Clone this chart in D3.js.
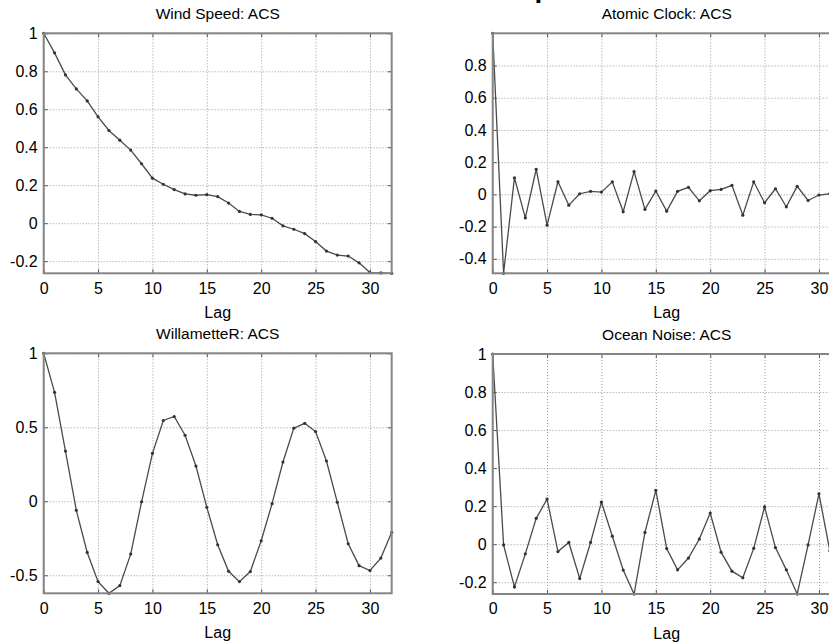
<!DOCTYPE html>
<html>
<head>
<meta charset="utf-8">
<script src="https://cdn.jsdelivr.net/npm/d3@7"></script>
<style>
  body { margin: 0; background: #fff; }
  svg text { font-family: Arial, "Liberation Sans", sans-serif; fill: #000; }
  .frame { fill: none; stroke: #858585; stroke-width: 2; }
  .grid line { stroke: #9a9a9a; stroke-width: 1; stroke-dasharray: 1,2; }
  .grid .domain { display: none; }
  .axis .domain { display: none; }
  .axis line { stroke: #555; }
  .axis text { font-size: 16px; }
</style>
</head>
<body>
<div id="chart"></div>
<script>
// Lags 0..32
var lags = d3.range(0, 33);

// ACS values
var windSpeed = [1, 0.897, 0.781, 0.707, 0.644, 0.560, 0.488, 0.437, 0.385, 0.313,
  0.237, 0.205, 0.177, 0.154, 0.147, 0.150, 0.140, 0.106, 0.062, 0.046,
  0.044, 0.026, -0.014, -0.032, -0.055, -0.097, -0.147, -0.168, -0.173, -0.209,
  -0.260, -0.262, -0.264];

var atomicClock = [1, -0.49, 0.103, -0.146, 0.156, -0.191, 0.078, -0.067, 0.004, 0.019,
  0.014, 0.078, -0.108, 0.141, -0.093, 0.021, -0.104, 0.019, 0.044, -0.040,
  0.023, 0.031, 0.056, -0.129, 0.078, -0.052, 0.035, -0.077, 0.050, -0.038,
  -0.004, 0.004, 0.010];

var willamette = [1, 0.736, 0.339, -0.061, -0.346, -0.543, -0.622, -0.570, -0.357, -0.004,
  0.324, 0.546, 0.573, 0.446, 0.238, -0.041, -0.294, -0.473, -0.543, -0.475,
  -0.267, -0.016, 0.265, 0.494, 0.527, 0.471, 0.272, -0.007, -0.287, -0.435,
  -0.468, -0.384, -0.210];

var oceanNoise = [1, -0.004, -0.225, -0.051, 0.136, 0.237, -0.039, 0.009, -0.180, 0.009,
  0.221, 0.042, -0.136, -0.262, 0.062, 0.283, -0.023, -0.135, -0.073, 0.027,
  0.164, -0.042, -0.142, -0.177, -0.022, 0.196, -0.018, -0.135, -0.262, -0.004,
  0.265, -0.035, -0.100];

// Tick labels
var xTicks = [0, 5, 10, 15, 20, 25, 30];
var windTicks = [-0.2, 0, 0.2, 0.4, 0.6, 0.8, 1];
var atomicTicks = [-0.4, -0.2, 0, 0.2, 0.4, 0.6, 0.8];
var willTicks = [-0.5, 0, 0.5, 1];
var oceanTicks = [-0.2, 0, 0.2, 0.4, 0.6, 0.8, 1];

var titles = ["Wind Speed: ACS", "Atomic Clock: ACS", "WillametteR: ACS", "Ocean Noise: ACS"];

var width = 829, height = 643;
var pw = 348, ph = 240;

var svg = d3.select('#chart')
  .append('svg')
  .attr('width', width)
  .attr('height', height);

svg.append('rect').attr('width', width).attr('height', height).attr('fill', '#fff');

// clipped figure title, only a descender shows at the top edge
svg.append('text')
  .attr('x', 543)
  .attr('y', -3)
  .attr('text-anchor', 'middle')
  .style('font-size', '28px')
  .style('font-weight', 'bold')
  .text('p');

function fmt(d) {
  return String(+d.toFixed(1));
}

function drawPanel(left, top, values, yTicks, title) {
  var g = svg.append('g').attr('transform', `translate(${left},${top})`);

  var x = d3.scaleLinear().domain([0, 32]).range([0, pw]);
  var y = d3.scaleLinear().domain(d3.extent(values)).range([ph, 0]);

  // grid
  g.append('g')
    .attr('class', 'grid')
    .call(d3.axisBottom(x).tickValues(xTicks).tickSize(ph).tickFormat(''));
  g.append('g')
    .attr('class', 'grid')
    .call(d3.axisRight(y).tickValues(yTicks).tickSize(pw).tickFormat(''));

  // data line + markers
  var line = d3.line()
    .x((d, i) => x(lags[i]))
    .y(d => y(d));

  g.append('path')
    .datum(values)
    .attr('fill', 'none')
    .attr('stroke', '#4a4a4a')
    .attr('stroke-width', 1.3)
    .attr('d', line);

  g.selectAll('circle')
    .data(values)
    .enter()
    .append('circle')
    .attr('cx', (d, i) => x(lags[i]))
    .attr('cy', d => y(d))
    .attr('r', 1.6)
    .attr('fill', '#333');

  // axes with inward ticks
  g.append('g')
    .attr('class', 'axis')
    .attr('transform', `translate(0,${ph})`)
    .call(d3.axisBottom(x).tickValues(xTicks).tickSize(-4).tickPadding(9).tickFormat(fmt));
  g.append('g')
    .attr('class', 'axis')
    .call(d3.axisLeft(y).tickValues(yTicks).tickSize(-4).tickPadding(6).tickFormat(fmt));
  g.append('g')
    .attr('class', 'axis')
    .call(d3.axisTop(x).tickValues(xTicks).tickSize(-4).tickFormat(''));
  g.append('g')
    .attr('class', 'axis')
    .attr('transform', `translate(${pw},0)`)
    .call(d3.axisRight(y).tickValues(yTicks).tickSize(-4).tickFormat(''));

  g.append('rect')
    .attr('class', 'frame')
    .attr('width', pw)
    .attr('height', ph);

  // title and x label
  g.append('text')
    .attr('x', pw / 2)
    .attr('y', -14)
    .attr('text-anchor', 'middle')
    .style('font-size', '15.5px')
    .text(title);

  g.append('text')
    .attr('x', pw / 2)
    .attr('y', ph + 45)
    .attr('text-anchor', 'middle')
    .style('font-size', '16px')
    .text('Lag');
}

drawPanel(43.7, 33.3, windSpeed, windTicks, titles[0]);
drawPanel(492.7, 33.3, atomicClock, atomicTicks, titles[1]);
drawPanel(43.7, 353.3, willamette, willTicks, titles[2]);
drawPanel(492.7, 354, oceanNoise, oceanTicks, titles[3]);
</script>
</body>
</html>
